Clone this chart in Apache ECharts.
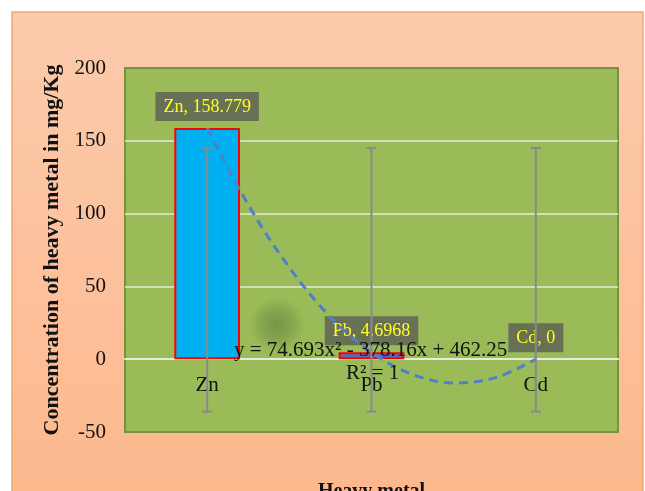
<!DOCTYPE html>
<html>
<head>
<meta charset="utf-8">
<script src="https://cdn.jsdelivr.net/npm/echarts@6/dist/echarts.min.js"></script>
<style>html,body{margin:0;padding:0;background:#fff;}#c{width:645px;height:491px;}</style>
</head>
<body>
<div id="c"></div>
<script>
// ---- data ----
const categories = ['Zn', 'Pb', 'Cd'];
const values = [158.779, 4.6968, 0];
const barColors = ['#00B0F0', '#4A6FC4', '#4A6FC4'];
const errLow = [-36, -36, -36];
const errHigh = [145, 145, 145];
// polynomial trendline, values
const trendX = [1, 1.25, 1.5, 1.75, 2, 2.25, 2.5, 2.75, 3];
const trendY = [158.8, 106, 63, 29, 4.7, -10.5, -16.3, -12.8, 0];
const yTicks = { min: -50, max: 200, interval: 50 };
const equationText = 'y = 74.693x² - 378.16x + 462.25';
const r2Text = 'R² = 1';

const FONT = '"Liberation Serif", "Times New Roman", serif';
const chart = echarts.init(document.getElementById('c'));

const GRID = { left: 125, right: 27, top: 68, bottom: 59 };
const plotH = 491 - GRID.top - GRID.bottom;
// move the category axis up to the value 0 line
const zeroOffset = -plotH * (0 - yTicks.min) / (yTicks.max - yTicks.min);

const option = {
  backgroundColor: '#ffffff',
  animation: false,
  graphic: [
    {
      type: 'rect', z: -100, silent: true,
      shape: { x: 12, y: 12, width: 631, height: 490 },
      style: {
        fill: new echarts.graphic.LinearGradient(0, 0, 0, 1, [
          { offset: 0, color: '#FBCBAC' },
          { offset: 1, color: '#FDB88D' }
        ]),
        stroke: '#F4A86E', lineWidth: 1.5
      }
    },
    {
      type: 'ellipse', z: 1, silent: true,
      shape: { cx: 277, cy: 325, rx: 58, ry: 28 },
      style: {
        fill: new echarts.graphic.RadialGradient(0.5, 0.5, 0.5, [
          { offset: 0, color: 'rgba(75,100,45,0.45)' },
          { offset: 0.55, color: 'rgba(75,100,45,0.25)' },
          { offset: 1, color: 'rgba(75,100,45,0)' }
        ])
      }
    },
    {
      type: 'text', z: 50, silent: true,
      x: 234, y: 340,
      style: { text: equationText, font: '21px ' + FONT, fill: '#111' }
    },
    {
      type: 'text', z: 50, silent: true,
      x: 346, y: 363,
      style: { text: r2Text, font: '21px ' + FONT, fill: '#111' }
    }
  ],
  grid: Object.assign({}, GRID, {
    outerBoundsMode: 'none', containLabel: false,
    show: true, backgroundColor: '#9BBB59', borderColor: '#76923C', borderWidth: 2
  }),
  xAxis: [
    {
      type: 'category', data: categories, position: 'bottom', offset: zeroOffset,
      name: 'Heavy metal', nameLocation: 'middle', nameGap: 123,
      nameTextStyle: { fontFamily: FONT, fontSize: 20, fontWeight: 'bold', color: '#111' },
      axisLine: { show: true, onZero: false, lineStyle: { color: '#E6EBDC', width: 2 } },
      axisTick: { show: false },
      axisLabel: { fontFamily: FONT, fontSize: 21, color: '#111', margin: 16 }
    },
    { type: 'value', min: 0.5, max: 3.5, show: false, axisLine: { onZero: false } }
  ],
  yAxis: {
    type: 'value', min: yTicks.min, max: yTicks.max, interval: yTicks.interval,
    name: 'Concentration of heavy metal in mg/Kg', nameLocation: 'middle', nameGap: 49,
    nameTextStyle: { fontFamily: FONT, fontSize: 22, fontWeight: 'bold', color: '#111' },
    axisLine: { show: false, onZero: false }, axisTick: { show: false },
    axisLabel: { fontFamily: FONT, fontSize: 21, color: '#111', margin: 19 },
    splitLine: { showMinLine: false, showMaxLine: false, lineStyle: { color: '#E6EBDC', width: 1.5 } }
  },
  series: [
    {
      type: 'bar', z: 2, barWidth: '40%',
      data: values.map((v, i) => ({
        value: v,
        itemStyle: { color: barColors[i], borderWidth: v === 0 ? 0 : 2 }
      })),
      itemStyle: { borderColor: '#FF0000' },
      label: {
        show: true, position: 'top', distance: 7,
        formatter: p => p.name + ', ' + p.value,
        fontFamily: FONT, fontSize: 18, color: '#FFFF22',
        backgroundColor: 'rgba(95,100,85,0.85)', padding: [6, 8, 5, 8]
      }
    },
    {
      type: 'line', z: 3, xAxisIndex: 1, smooth: 0.35, symbol: 'none',
      data: trendX.map((x, i) => [x, trendY[i]]),
      lineStyle: { color: '#4F7FC9', width: 3, type: [9, 6] }
    },
    {
      type: 'custom', z: 4,
      data: categories.map((c, i) => [i, errLow[i], errHigh[i]]),
      renderItem: function (params, api) {
        const lo = api.coord([api.value(0), api.value(1)]);
        const hi = api.coord([api.value(0), api.value(2)]);
        const cap = 5;
        const st = { stroke: '#8A8A8A', lineWidth: 2 };
        return {
          type: 'group',
          children: [
            { type: 'line', shape: { x1: hi[0], y1: hi[1], x2: lo[0], y2: lo[1] }, style: st },
            { type: 'line', shape: { x1: hi[0] - cap, y1: hi[1], x2: hi[0] + cap, y2: hi[1] }, style: st },
            { type: 'line', shape: { x1: lo[0] - cap, y1: lo[1], x2: lo[0] + cap, y2: lo[1] }, style: st }
          ]
        };
      }
    }
  ]
};
chart.setOption(option);
</script>
</body>
</html>
